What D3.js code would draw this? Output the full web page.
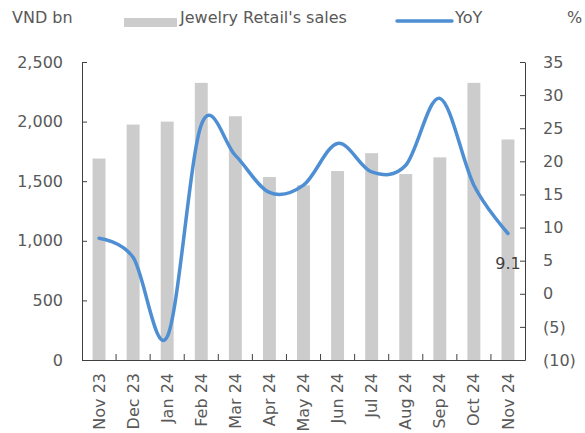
<!DOCTYPE html>
<html>
<head>
<meta charset="utf-8">
<script src="https://cdn.jsdelivr.net/npm/d3@7/dist/d3.min.js"></script>
<style>
  html, body { margin: 0; padding: 0; background: #fff; }
  svg { display: block; font-family: "DejaVu Sans", Verdana, sans-serif; }
</style>
</head>
<body>
<svg id="chart" width="585" height="433"></svg>
<script>
// Monthly jewelry retail sales (VND bn) and year-on-year growth (%)
const months = ["Nov 23", "Dec 23", "Jan 24", "Feb 24", "Mar 24", "Apr 24", "May 24",
                "Jun 24", "Jul 24", "Aug 24", "Sep 24", "Oct 24", "Nov 24"];
const sales = [1690, 1975, 2000, 2325, 2045, 1535, 1465, 1585, 1735, 1560, 1700, 2325, 1850];
const yoy = [8.4, 5.5, -6.5, 25.5, 20.9, 15.3, 16.4, 22.7, 18.4, 19.4, 29.5, 16.4, 9.1];
const leftTicks = [0, 500, 1000, 1500, 2000, 2500];
const rightTicks = [-10, -5, 0, 5, 10, 15, 20, 25, 30, 35];

const textColor = "#595959";
const axisColor = "#404040";
const barColor = "#CCCCCC";
const lineColor = "#4E8FD3";

const svg = d3.select("#chart");
const plot = { left: 82, right: 525, top: 62, bottom: 360 };

const x = d3.scaleBand()
  .domain(months)
  .range([plot.left, plot.right])
  .paddingInner(0.62)
  .paddingOuter(0.31);

const yL = d3.scaleLinear().domain([0, 2500]).range([plot.bottom, plot.top]);
const yR = d3.scaleLinear().domain([-10, 35]).range([plot.bottom, plot.top]);

// Bars
svg.append("g")
  .selectAll("rect")
  .data(months)
  .join("rect")
  .attr("x", d => x(d))
  .attr("width", x.bandwidth())
  .attr("y", (d, i) => yL(sales[i]))
  .attr("height", (d, i) => yL(0) - yL(sales[i]))
  .attr("fill", barColor);

// Smoothed YoY line
const line = d3.line()
  .x((d, i) => x(months[i]) + x.bandwidth() / 2)
  .y(d => yR(d))
  .curve(d3.curveCatmullRom.alpha(0));

svg.append("path")
  .datum(yoy)
  .attr("d", line)
  .attr("fill", "none")
  .attr("stroke", lineColor)
  .attr("stroke-width", 3.5)
  .attr("stroke-linecap", "round");

// Left axis
const axL = svg.append("g")
  .attr("transform", `translate(${plot.left},0)`)
  .call(d3.axisLeft(yL).tickValues(leftTicks).tickSizeInner(-5).tickSizeOuter(0)
    .tickPadding(19).tickFormat(d3.format(",")));

// Right axis
const fmtR = d => d < 0 ? `(${Math.abs(d)})` : `${d}`;
const axR = svg.append("g")
  .attr("transform", `translate(${plot.right},0)`)
  .call(d3.axisRight(yR).tickValues(rightTicks).tickSizeInner(-5).tickSizeOuter(0)
    .tickPadding(18).tickFormat(fmtR));

// Bottom axis with ticks between categories
const axB = svg.append("g")
  .attr("transform", `translate(0,${plot.bottom})`)
  .call(d3.axisBottom(x).tickSize(0).tickPadding(0));

const step = x.step();
const boundaries = d3.range(1, months.length).map(i => plot.left + i * step);
axB.selectAll("line.sep")
  .data(boundaries)
  .join("line")
  .attr("class", "sep")
  .attr("x1", d => d).attr("x2", d => d)
  .attr("y1", 0).attr("y2", -6)
  .attr("stroke", axisColor);

axB.selectAll(".tick text")
  .attr("transform", "rotate(-90)")
  .attr("text-anchor", "end")
  .attr("x", -13)
  .attr("y", 0)
  .attr("dy", "0.35em");

[axL, axR, axB].forEach(g => {
  g.select(".domain").attr("stroke", axisColor);
  g.selectAll(".tick line").attr("stroke", axisColor);
  g.selectAll("text").attr("fill", textColor).attr("font-size", 16)
    .attr("font-family", "DejaVu Sans, Verdana, sans-serif");
});

// Value label on the last point
const last = yoy.length - 1;
svg.append("text")
  .attr("x", x(months[last]) + x.bandwidth() / 2)
  .attr("y", yR(yoy[last]) + 35)
  .attr("text-anchor", "middle")
  .attr("fill", "#404040")
  .attr("font-size", 16)
  .text(yoy[last].toFixed(1));

// Axis titles and legend
svg.append("text").attr("x", 12).attr("y", 23).attr("fill", textColor)
  .attr("font-size", 16).text("VND bn");
svg.append("text").attr("x", 567).attr("y", 23).attr("fill", textColor)
  .attr("font-size", 16).text("%");

svg.append("rect").attr("x", 124).attr("y", 18).attr("width", 53).attr("height", 9)
  .attr("fill", barColor);
svg.append("text").attr("x", 180).attr("y", 23).attr("fill", textColor)
  .attr("font-size", 16).text("Jewelry Retail's sales");

svg.append("line").attr("x1", 397).attr("x2", 452).attr("y1", 21).attr("y2", 21)
  .attr("stroke", lineColor).attr("stroke-width", 3.5).attr("stroke-linecap", "round");
svg.append("text").attr("x", 455).attr("y", 23).attr("fill", textColor)
  .attr("font-size", 16).text("YoY");
</script>
</body>
</html>
